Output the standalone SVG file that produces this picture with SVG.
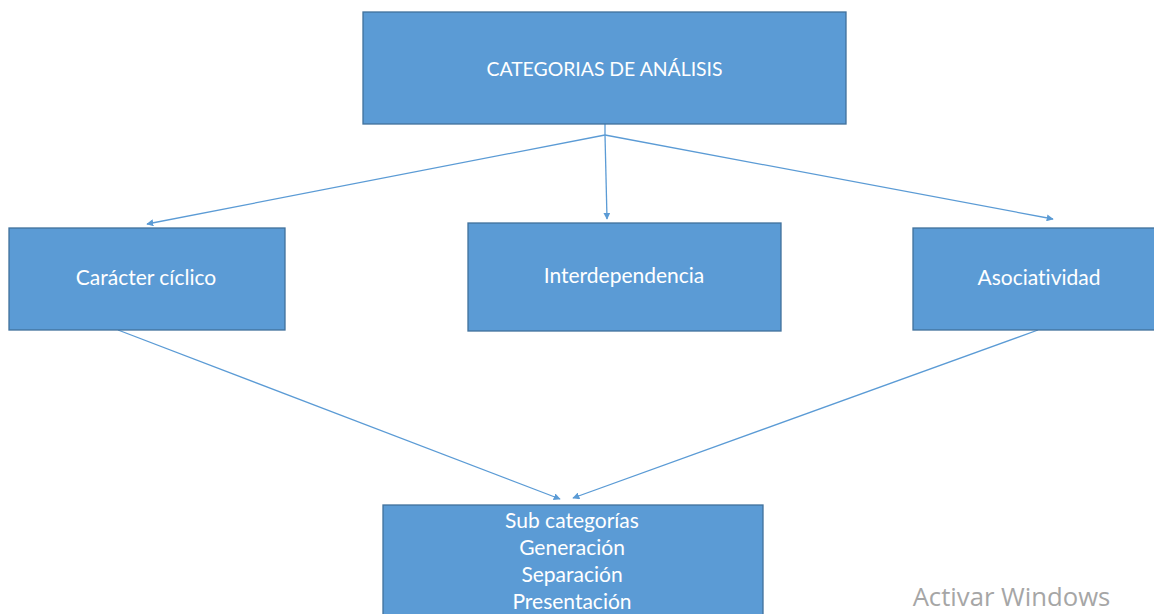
<svg xmlns="http://www.w3.org/2000/svg" width="1154" height="614" viewBox="0 0 1154 614">
<style>
.box{fill:#5B9BD5;stroke:#41719C;stroke-width:1.3}
.t{fill:#fff;font-family:Lato,"Open Sans",sans-serif;font-size:21px;text-anchor:middle;font-variant-ligatures:none}
.c{stroke:#5B9BD5;stroke-width:1.3;fill:none;marker-end:url(#ah)}
</style>
<defs>
<marker id="ah" viewBox="0 0 10 10" refX="9" refY="5" markerWidth="7" markerHeight="7" markerUnits="userSpaceOnUse" orient="auto">
<path d="M0,0 L10,5 L0,10 z" fill="#5B9BD5"/>
</marker>
</defs>
<rect width="1154" height="614" fill="#fff"/>
<g id="connectors">
<line x1="605" y1="124" x2="605" y2="135" stroke="#5B9BD5" stroke-width="1.3"/>
<line class="c" x1="605" y1="135" x2="607" y2="219"/>
<line class="c" x1="605" y1="135" x2="147" y2="224"/>
<line class="c" x1="605" y1="135" x2="1053" y2="219"/>
<line class="c" x1="118" y1="330" x2="560" y2="499"/>
<line class="c" x1="1038" y1="330" x2="573" y2="498"/>
</g>
<g id="n-categorias">
<rect class="box" x="363" y="12" width="483" height="112"/>
<text class="t" x="604.5" y="76" style="font-size:19.4px">CATEGORIAS DE ANÁLISIS</text>
</g>
<g id="n-ciclico">
<rect class="box" x="9" y="228" width="276" height="102"/>
<text class="t" x="146" y="285">Carácter cíclico</text>
</g>
<g id="n-interdependencia">
<rect class="box" x="468" y="223" width="313" height="108"/>
<text class="t" x="624" y="283">Interdependencia</text>
</g>
<g id="n-asociatividad">
<rect class="box" x="913" y="228" width="250" height="102"/>
<text class="t" x="1039" y="285">Asociatividad</text>
</g>
<g id="n-sub">
<rect class="box" x="383" y="505" width="380" height="120"/>
<text class="t" x="572" y="528">Sub categorías</text>
<text class="t" x="572" y="555">Generación</text>
<text class="t" x="572" y="582">Separación</text>
<text class="t" x="572" y="609">Presentación</text>
</g>
<text x="1011.5" y="606" fill="#a6a6a6" font-family="'Open Sans',Lato,sans-serif" font-size="25.7" text-anchor="middle">Activar Windows</text>
</svg>
